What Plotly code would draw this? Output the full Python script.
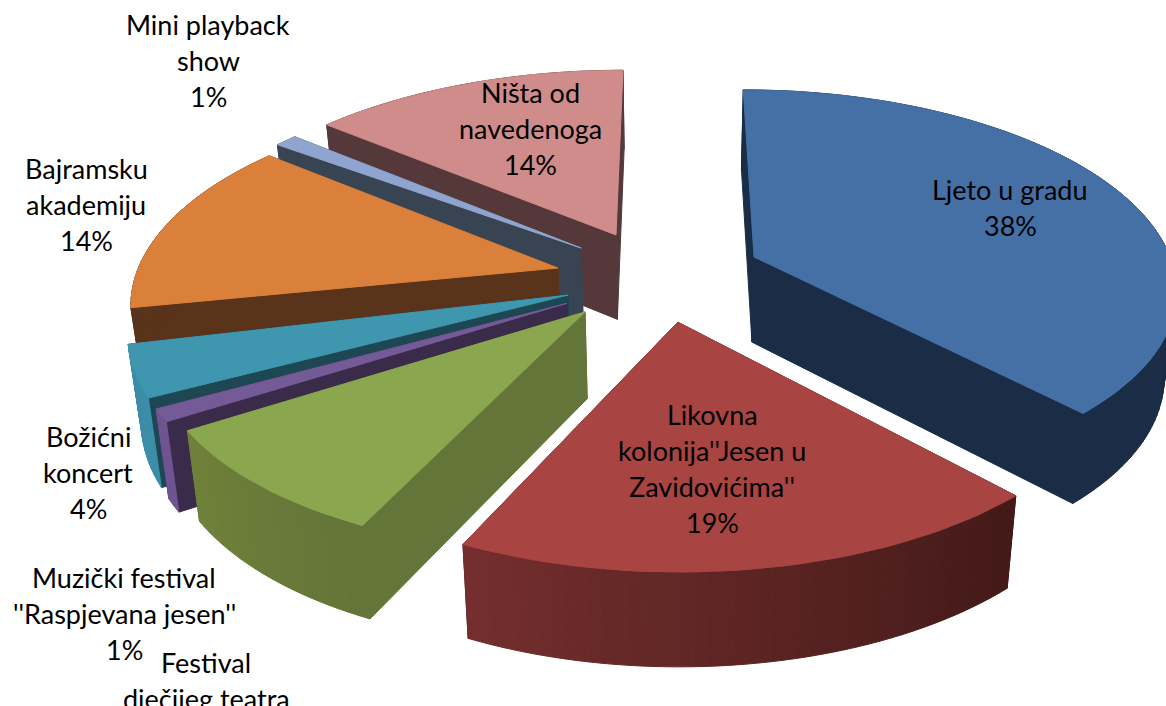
import numpy as np
import plotly.graph_objects as go

categories = ["Ljeto u gradu", "Likovna kolonija''Jesen u Zavidovićima''", "Festival dječijeg teatra",
              "Muzički festival ''Raspjevana jesen''", "Božićni koncert", "Bajramsku akademiju",
              "Mini playback show", "Ništa od navedenoga"]
values = [38, 19, 9, 1, 4, 14, 1, 14]
label_lines = [["Ljeto u gradu", "38%"],
               ["Likovna", "kolonija''Jesen u", "Zavidovićima''", "19%"],
               ["Festival", "dječijeg teatra", "9%"],
               ["Muzički festival", "''Raspjevana jesen''", "1%"],
               ["Božićni", "koncert", "4%"],
               ["Bajramsku", "akademiju", "14%"],
               ["Mini playback", "show", "1%"],
               ["Ništa od", "navedenoga", "14%"]]

# styling per slice
top_colors = ["#4470A5", "#A84442", "#8AA64E", "#745A96", "#3F96AF", "#DA803A", "#8FA5CF", "#CF8C8B"]
cut_colors = ["#1B2D46", "#431A19", "#64753A", "#3B2B4A", "#1D4753", "#59331A", "#394453", "#55393A"]
wall_start = ["#1B2D46", "#431A19", "#64753A", "#6E5490", "#3B8DA8", "#59331A", "#394453", "#55393A"]
wall_end = ["#1B2D46", "#752F2E", "#708239", "#6E5490", "#3B8DA8", "#59331A", "#394453", "#55393A"]
explode_x = [0.202, 0.018, -0.196, -0.239, -0.238, -0.267, -0.215, -0.132]
explode_y = [0.143, -0.181, -0.132, -0.09, -0.05, 0.086, 0.19, 0.26]
radius = [1.0, 1.0, 0.98, 0.99, 1.01, 1.0, 1.01, 1.02]
rotate = [0, 0, 0, 0, 1, 3, 0, 0]
draw_order = [7, 6, 5, 4, 3, 2, 0, 1]
label_x = [1010, 712, 206, 124, 88, 86, 208, 530]
label_y = [189, 414, 662, 577, 436, 168, 24, 92]
line_step = 36.3

# fake perspective for the 3d look
VX, CY, S, TS, K, THICK, SHRINK = 670, 285, 425, 200, 0.15, 86, 0.025


def project(X, Y, low=False):
    w = 1 + K * Y
    sx = S * X / w
    sy = CY - TS * Y / w
    if low:
        sx = sx * (1 - SHRINK)
        sy = sy + THICK / w ** 0.5
    return VX + sx, sy


def mix(c1, c2, t):
    a = [int(c1[i:i + 2], 16) for i in (1, 3, 5)]
    b = [int(c2[i:i + 2], 16) for i in (1, 3, 5)]
    return "rgb(%d,%d,%d)" % tuple(a[i] + (b[i] - a[i]) * t for i in range(3))


def poly(xs, ys, color, name):
    return go.Scatter(x=list(xs) + [xs[0]], y=list(ys) + [ys[0]], mode="lines", fill="toself",
                      fillcolor=color, line=dict(color=color, width=1), name=name,
                      hoverinfo="skip", showlegend=False)


edges = np.cumsum([0] + values) / sum(values) * 2 * np.pi
fig = go.Figure()

for i in draw_order:
    n = max(3, int((edges[i + 1] - edges[i]) * 40))
    th = np.linspace(edges[i], edges[i + 1], n) + np.radians(rotate[i])
    ax, ay = explode_x[i], explode_y[i]
    X = ax + radius[i] * np.sin(th)
    Y = ay + radius[i] * np.cos(th)

    # the two cut faces
    for k in (0, -1):
        x0, y0 = project(ax, ay)
        x1, y1 = project(X[k], Y[k])
        x2, y2 = project(X[k], Y[k], True)
        x3, y3 = project(ax, ay, True)
        fig.add_trace(poly([x0, x1, x2, x3], [y0, y1, y2, y3], cut_colors[i], categories[i]))

    # outer wall, one strip per step so the shade can change
    for k in range(n - 1):
        x0, y0 = project(X[k:k + 2], Y[k:k + 2])
        x1, y1 = project(X[k:k + 2], Y[k:k + 2], True)
        c = mix(wall_start[i], wall_end[i], k / (n - 1))
        fig.add_trace(poly([x0[0], x0[1], x1[1], x1[0]], [y0[0], y0[1], y1[1], y1[0]], c, categories[i]))

    tx, ty = project(X, Y)
    ox, oy = project(ax, ay)
    fig.add_trace(poly([ox] + list(tx), [oy] + list(ty), top_colors[i], categories[i]))

for i, lines in enumerate(label_lines):
    for j, line in enumerate(lines):
        fig.add_annotation(x=label_x[i], y=label_y[i] + j * line_step, text=line, showarrow=False,
                           font=dict(family="Lato", size=27, color="black"),
                           xanchor="center", yanchor="middle")

fig.update_layout(width=1166, height=706, margin=dict(l=0, r=0, t=0, b=0),
                  paper_bgcolor="white", plot_bgcolor="white", showlegend=False,
                  xaxis=dict(range=[0, 1166], visible=False, fixedrange=True),
                  yaxis=dict(range=[706, 0], visible=False, fixedrange=True))

fig.write_html("out.html", config={"displayModeBar": False},
               post_script="document.body.style.margin='0';")
